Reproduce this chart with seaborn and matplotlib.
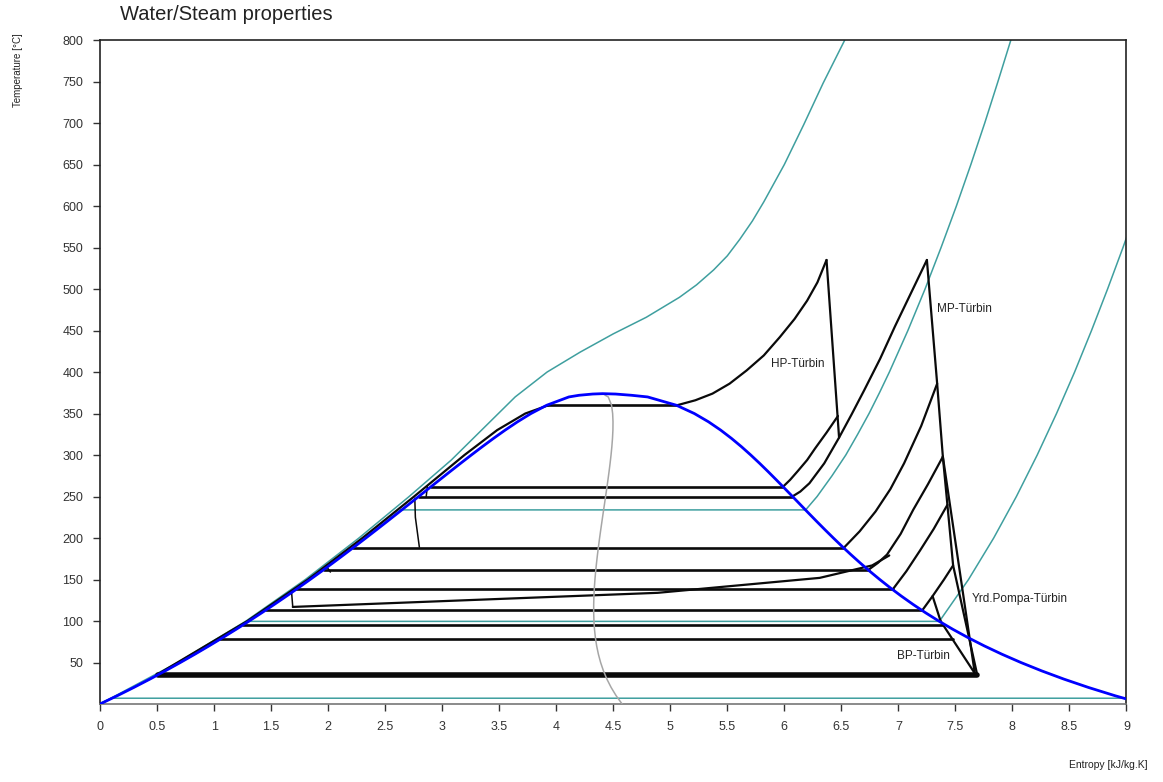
import numpy as np
import seaborn as sns
import matplotlib
matplotlib.use("Agg")
import matplotlib.pyplot as plt

# saturation line of water (steam table values)
sat_T = [0.01, 10, 20, 30, 40, 50, 60, 70, 80, 90, 100, 110, 120, 130, 140, 150,
         160, 170, 180, 190, 200, 210, 220, 230, 240, 250, 260, 270, 280, 290, 300,
         310, 320, 330, 340, 350, 360, 370, 372, 373.5, 373.95]
sat_sf = [0.0, 0.1511, 0.2965, 0.4368, 0.5724, 0.7038, 0.8313, 0.9551, 1.0756, 1.1929,
          1.3072, 1.4188, 1.5279, 1.6346, 1.7392, 1.8418, 1.9426, 2.0417, 2.1392, 2.2355,
          2.3305, 2.4245, 2.5177, 2.6101, 2.7020, 2.7935, 2.8849, 2.9765, 3.0685, 3.1612,
          3.2552, 3.3510, 3.4494, 3.5518, 3.6601, 3.7784, 3.9167, 4.1112, 4.20, 4.32, 4.407]
sat_sg = [9.1556, 8.8999, 8.6661, 8.4520, 8.2557, 8.0749, 7.9082, 7.7540, 7.6111, 7.4781,
          7.3541, 7.2381, 7.1291, 7.0264, 6.9293, 6.8371, 6.7491, 6.6650, 6.5840, 6.5059,
          6.4302, 6.3563, 6.2840, 6.2128, 6.1423, 6.0721, 6.0016, 5.9304, 5.8579, 5.7834,
          5.7059, 5.6244, 5.5372, 5.4422, 5.3356, 5.2110, 5.0536, 4.8012, 4.66, 4.52, 4.407]

# isobars (teal)
p001_s = [0.10, 8.98, 9.05]
p001_T = [7, 7, 12]
p1_sup_s = [7.3594, 7.6148, 7.8356, 8.0346, 8.2172, 8.3865, 8.5452, 8.6933, 8.8342, 8.9693, 9.0976]
p1_sup_T = [99.6, 150, 200, 250, 300, 350, 400, 450, 500, 550, 600]
p30_sup_s = [6.1869, 6.2871, 6.4180, 6.5389, 6.6430, 6.7427, 6.8340, 6.9211, 7.0833,
             7.2338, 7.3742, 7.5085, 7.6355, 7.7571, 7.8730, 7.9862]
p30_sup_T = [233.9, 250, 275, 300, 325, 350, 375, 400, 450, 500, 550, 600, 650, 700, 750, 800]
psc_s = [0.0, 0.68, 1.28, 1.80, 2.27, 2.71, 3.08, 3.36, 3.64, 3.92, 4.21, 4.50, 4.79,
         5.08, 5.23, 5.38, 5.50, 5.61, 5.72, 5.82, 6.00, 6.17, 6.34, 6.53]
psc_T = [0, 50, 100, 150, 200, 250, 294, 332, 370, 400, 424, 446, 466,
         490, 505, 523, 540, 560, 582, 605, 650, 698, 748, 800]

# cycle: feedwater along the liquid side
feed_T = [35, 100, 150, 200, 250, 300, 330, 350, 360]
feed_off = [0.01, 0.015, 0.02, 0.03, 0.04, 0.06, 0.07, 0.05, -0.015]

# cycle: heat addition / expansion paths
boil_s = [5.06, 5.22, 5.37, 5.52, 5.67, 5.82, 5.96, 6.09, 6.20, 6.29, 6.37]
boil_T = [360, 366, 374, 386, 402, 420, 442, 464, 486, 508, 535]
hp_s = [6.37, 6.48]
hp_T = [535, 321]
reheat_s = [6.07, 6.14, 6.22, 6.35, 6.48, 6.59, 6.70, 6.84, 6.97, 7.11, 7.25]
reheat_T = [250, 256, 266, 290, 321, 349, 378, 416, 455, 495, 535]
ext1_s = [5.99, 6.05, 6.12, 6.20, 6.27, 6.37, 6.47]
ext1_T = [262, 270, 281, 294, 308, 327, 347]
mp_s = [7.25, 7.34, 7.39]
mp_T = [535, 386, 298]
ext3_s = [6.52, 6.66, 6.80, 6.93, 7.05, 7.20, 7.34]
ext3_T = [188, 208, 232, 259, 290, 335, 386]
ext4_s = [6.74, 6.82, 6.90, 7.02, 7.13, 7.26, 7.39]
ext4_T = [162, 170, 180, 205, 234, 265, 298]
diag_s = [1.69, 4.89, 6.31, 6.77, 6.92]
diag_T = [117, 134, 152, 167, 179]
ext5_s = [6.95, 7.07, 7.19, 7.31, 7.43]
ext5_T = [138, 160, 185, 211, 240]
ext6_s = [7.21, 7.30, 7.40, 7.48]
ext6_T = [113, 130, 150, 167]
lp1_s = [7.39, 7.67]
lp1_T = [298, 37]
lp2_s = [7.39, 7.48, 7.69]
lp2_T = [298, 167, 36]
yrd_s = [7.30, 7.37]
yrd_T = [130, 100]
bp_s = [7.37, 7.67]
bp_T = [100, 37]

# small connecting lines on the liquid side
drain1_s = [2.87, 2.86]
drain1_T = [262, 250]
drain2_s = [2.76, 2.765, 2.80]
drain2_T = [248, 225, 189]
drain3_s = [1.99, 2.02]
drain3_T = [165, 159]
drain4_s = [1.68, 1.69]
drain4_T = [134, 117]

# constant temperature lines inside the dome
level_T = [360, 262, 250, 188, 162, 138, 113, 95, 78]
level_end = [5.06, 5.99, 6.07, 6.52, 6.74, 6.95, 7.21, 7.39, 7.48]
cond_T = 35
cond_end = 7.69

x_ticks = np.arange(0, 9.01, 0.5)
x_labels = ["0", "0.5", "1", "1.5", "2", "2.5", "3", "3.5", "4", "4.5", "5", "5.5",
            "6", "6.5", "7", "7.5", "8", "8.5", "9"]
y_ticks = np.arange(50, 801, 50)

sns.set_style("ticks")
plt.rcParams['font.family'] = ['Liberation Sans', 'DejaVu Sans']

TEAL = "#3f9f9f"
BLACK = "#0a0a0a"


def line(ax, s, T, color=BLACK, lw=1.6, z=3):
    sns.lineplot(x=list(s), y=list(T), sort=False, estimator=None, color=color,
                 lw=lw, zorder=z, ax=ax)


fig = plt.figure(figsize=(11.63, 7.82), dpi=100)
ax = fig.add_axes([0.086, 0.0997, 0.8826, 0.8491])

sf = np.array(sat_sf)
sg = np.array(sat_sg)
T = np.array(sat_T)

# isobars
line(ax, p001_s, p001_T, TEAL, 1.1, 1)
line(ax, list(sf[T <= 99.6]) + [1.3069] + p1_sup_s, list(T[T <= 99.6]) + [99.6] + p1_sup_T, TEAL, 1.1, 1)
line(ax, list(sf[T <= 230] - 0.01) + [2.6357] + p30_sup_s, list(T[T <= 230]) + [233.9] + p30_sup_T, TEAL, 1.1, 1)
line(ax, psc_s, psc_T, TEAL, 1.1, 1)

# cycle
feed_s = np.interp(feed_T, T, sf) - np.array(feed_off)
line(ax, feed_s, feed_T)
for s_end, t in zip(level_end, level_T):
    line(ax, [np.interp(t, T, sf), s_end], [t, t], lw=1.9)
line(ax, [np.interp(cond_T, T, sf), cond_end], [cond_T, cond_T], lw=4.0)
for xs, ys in [(boil_s, boil_T), (hp_s, hp_T), (reheat_s, reheat_T), (ext1_s, ext1_T),
               (mp_s, mp_T), (ext3_s, ext3_T), (ext4_s, ext4_T), (diag_s, diag_T),
               (ext5_s, ext5_T), (ext6_s, ext6_T), (lp1_s, lp1_T), (lp2_s, lp2_T),
               (yrd_s, yrd_T), (bp_s, bp_T)]:
    line(ax, xs, ys, lw=1.6)
for xs, ys in [(drain1_s, drain1_T), (drain2_s, drain2_T), (drain3_s, drain3_T),
               (drain4_s, drain4_T)]:
    line(ax, xs, ys, lw=1.1)

# quality x = 0.5
line(ax, (sf + sg) / 2, T, "#a6a6a6", 1.1, 4)

# saturation dome
line(ax, list(sf) + list(sg[::-1]), list(T) + list(T[::-1]), "#0000ff", 2.0, 5)

ax.text(5.88, 410, "HP-Türbin", fontsize=8.5, ha="left", va="center", color="#222222")
ax.text(7.34, 476, "MP-Türbin", fontsize=8.5, ha="left", va="center", color="#222222")
ax.text(7.64, 126, "Yrd.Pompa-Türbin", fontsize=8.5, ha="left", va="center", color="#222222")
ax.text(6.99, 58, "BP-Türbin", fontsize=8.5, ha="left", va="center", color="#222222")

ax.set_xlim(0, 9)
ax.set_ylim(0, 800)
ax.set_xticks(x_ticks)
ax.set_xticklabels(x_labels)
ax.set_yticks(y_ticks)
ax.set_xlabel("")
ax.set_ylabel("")
ax.tick_params(direction="out", length=5, width=1, colors="#333333", labelsize=9, pad=7)
for sp in ax.spines.values():
    sp.set_visible(True)
    sp.set_color("#222222")
    sp.set_linewidth(1.2)
ax.spines["bottom"].set_color("#777777")

fig.text(0.103, 0.981, "Water/Steam properties", fontsize=14.5, ha="left", va="center", color="#222222")
fig.text(0.0155, 0.958, "Temperature [°C]", fontsize=7, rotation=90, ha="center", va="top", color="#222222")
fig.text(0.987, 0.022, "Entropy [kJ/kg.K]", fontsize=7.5, ha="right", va="center", color="#222222")

fig.savefig("out.png", dpi=100)
